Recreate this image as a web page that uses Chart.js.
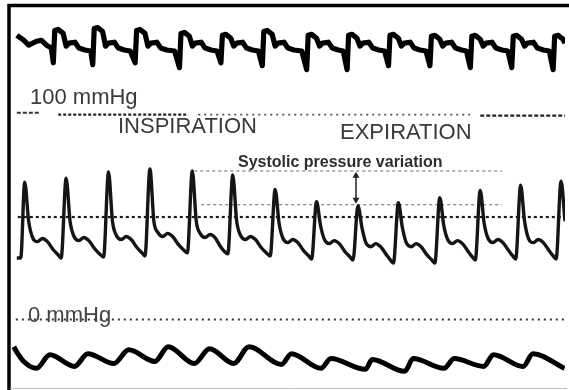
<!DOCTYPE html>
<html>
<head>
<meta charset="utf-8">
<script src="https://cdn.jsdelivr.net/npm/chart.js@4"></script>
<style>
	html, body { margin: 0; padding: 0; background: #fff; overflow: hidden; }
	canvas { display: block; }
</style>
</head>
<body>
<canvas id="trace" width="569" height="390"></canvas>
<script>
// time in seconds (50 px per second)
const artTime = [0.08, 0.16,
	0.24, 0.32, 0.40, 0.50, 0.60, 0.70, 0.82, 0.92, 0.98,
	1.08, 1.16, 1.24, 1.34, 1.44, 1.54, 1.66, 1.76, 1.84,
	1.94, 2.02, 2.10, 2.20, 2.30, 2.40, 2.52, 2.62, 2.68,
	2.78, 2.86, 2.94, 3.04, 3.14, 3.24, 3.36, 3.46, 3.54,
	3.64, 3.72, 3.80, 3.90, 4.00, 4.10, 4.20, 4.28, 4.36,
	4.46, 4.54, 4.62, 4.72, 4.82, 4.92, 5.04, 5.14, 5.22,
	5.32, 5.40, 5.48, 5.58, 5.68, 5.78, 5.90, 6.00, 6.06,
	6.16, 6.24, 6.32, 6.42, 6.52, 6.62, 6.74, 6.84, 6.90,
	7.00, 7.08, 7.16, 7.26, 7.36, 7.46, 7.58, 7.66, 7.72,
	7.82, 7.90, 7.98, 8.08, 8.18, 8.28, 8.40, 8.50, 8.56,
	8.66, 8.74, 8.82, 8.92, 9.02, 9.12, 9.24, 9.32, 9.38,
	9.48, 9.56, 9.64, 9.74, 9.84, 9.94, 10.06, 10.14, 10.20,
	10.30, 10.38, 10.46, 10.56, 10.66, 10.76, 10.88, 10.96, 11.02,
	11.12, 11.20]
// arterial pressure, mmHg
const artPressure = [30, 30,
	67, 48, 40, 38, 39.5, 38, 34, 31.5, 30,
	69, 48, 40.5, 38.5, 40, 38.5, 34.5, 32, 30.5,
	72, 48, 41, 39, 40.5, 39, 35, 32.5, 31,
	73.5, 48, 42.5, 40.5, 42, 40.5, 36.5, 34, 32.5,
	72.5, 48, 42, 40, 41.5, 40, 36, 33.5, 32,
	70.5, 48, 41, 39, 40.5, 39, 35, 32.5, 31,
	63.5, 47, 39.5, 37.5, 39, 37.5, 33.5, 31, 29.5,
	57.5, 46, 39, 37, 38.5, 37, 33, 30.5, 29,
	55.5, 45, 37.5, 35.5, 37, 35.5, 31.5, 29, 27.5,
	57, 45, 37.5, 35.5, 37, 35.5, 31.5, 29, 27.5,
	59.5, 46, 39, 37, 38.5, 37, 33, 30.5, 29,
	63, 47, 39.5, 37.5, 39, 37.5, 33.5, 31, 29.5,
	65.5, 48, 39.5, 37.5, 39, 37.5, 33.5, 31, 29.5,
	67.5, 48]

// ECG, mV
const ecgTime = [0.08, 0.22, 0.32, 0.48, 0.58, 0.68, 0.78,
	0.82, 0.85, 0.92, 1.02, 1.08, 1.14, 1.26, 1.34, 1.46, 1.58,
	1.62, 1.65, 1.72, 1.82, 1.88, 1.94, 2.06, 2.14, 2.26, 2.38,
	2.48, 2.51, 2.58, 2.68, 2.74, 2.80, 2.92, 3.00, 3.12, 3.28,
	3.38, 3.41, 3.48, 3.58, 3.64, 3.70, 3.82, 3.90, 4.02, 4.14,
	4.22, 4.25, 4.32, 4.42, 4.48, 4.54, 4.66, 4.74, 4.86, 4.98,
	5.06, 5.09, 5.16, 5.26, 5.32, 5.38, 5.50, 5.58, 5.70, 5.86,
	5.96, 5.99, 6.06, 6.16, 6.22, 6.28, 6.40, 6.48, 6.60, 6.70,
	6.78, 6.81, 6.88, 6.98, 7.04, 7.10, 7.22, 7.30, 7.42, 7.54,
	7.62, 7.65, 7.72, 7.82, 7.88, 7.94, 8.06, 8.14, 8.26, 8.38,
	8.46, 8.49, 8.56, 8.66, 8.72, 8.78, 8.90, 8.98, 9.10, 9.20,
	9.28, 9.31, 9.38, 9.48, 9.54, 9.60, 9.72, 9.80, 9.92, 10.04,
	10.12, 10.15, 10.22, 10.32, 10.38, 10.44, 10.56, 10.64, 10.76, 10.88,
	10.96, 10.99, 11.06, 11.16, 11.20]
const ecgValue = [0.65, 0.4, 0.15, 0.35, 0.4, 0.15, 0,
	-0.75, 0.9, 0.95, 0.75, 0.1, 0.25, 0.3, 0, -0.1, -0.15,
	-0.85, 1.0, 1.05, 0.85, 0.1, 0.25, 0.3, 0, -0.1, -0.15,
	-0.75, 0.9, 0.95, 0.75, 0.1, 0.25, 0.3, 0, -0.1, -0.15,
	-1.0, 0.75, 0.8, 0.6, 0.1, 0.25, 0.3, 0, -0.1, -0.15,
	-0.75, 0.65, 0.7, 0.5, 0.1, 0.25, 0.3, 0, -0.1, -0.15,
	-0.9, 0.85, 0.9, 0.7, 0.1, 0.25, 0.3, 0, -0.1, -0.15,
	-1.1, 0.65, 0.7, 0.5, 0.1, 0.25, 0.3, 0, -0.1, -0.15,
	-1.1, 0.65, 0.7, 0.5, 0.1, 0.25, 0.3, 0, -0.1, -0.15,
	-0.9, 0.65, 0.7, 0.5, 0.1, 0.25, 0.3, 0, -0.1, -0.15,
	-0.9, 0.6, 0.65, 0.45, 0.1, 0.25, 0.3, 0, -0.1, -0.15,
	-1.0, 0.6, 0.65, 0.45, 0.1, 0.25, 0.3, 0, -0.1, -0.15,
	-1.0, 0.6, 0.65, 0.45, 0.1, 0.25, 0.3, 0, -0.1, -0.15,
	-1.1, 0.6, 0.65, 0.45, 0.25]

// central venous pressure, mmHg
const cvpTime = [0.02, 0.10, 0.22, 0.48, 0.75, 1.25, 1.52, 2.05, 2.35, 2.88,
	3.15, 3.68, 3.99, 4.48, 4.79, 5.45, 5.65, 6.25, 6.45, 7.15,
	7.29, 7.95, 8.12, 8.75, 8.95, 9.55, 9.75, 10.35, 10.55, 11.19]
const cvpValue = [15, 11.5, 7.5, 4, 11, 5, 11.5, 6.5, 13.5, 7.5,
	15, 6.5, 14, 6.5, 15, 6, 11.5, 4, 9, 3.5,
	8.5, 2.5, 9, 4, 9, 5, 11, 5, 11.5, 4]

// reference levels, mmHg
const upperRef = 100
const zeroRef = 0
const meanRef = 50
const spvMax = 72.5
const spvMin = 56
const arrowTime = [6.96, 6.96]
const arrowValue = [70.2, 58.5]

const pts = (xs, ys) => xs.map((x, i) => ({ x: x, y: ys[i] }))
const flat = (level, from, to) => [{ x: from, y: level }, { x: to, y: level }]

const dotted = (data, color, width, dash) => ({
	data: data,
	yAxisID: "yArt",
	borderColor: color,
	borderWidth: width,
	borderDash: dash,
	pointRadius: 0,
	order: 5,
})

const labels = [
	{ text: "100 mmHg", x: 30, y: 104, font: "22px 'Liberation Sans', Arial, sans-serif", color: "#3a3a3a" },
	{ text: "INSPIRATION", x: 118, y: 133, font: "22px 'Liberation Sans', Arial, sans-serif", color: "#3a3a3a" },
	{ text: "EXPIRATION", x: 340, y: 139, font: "22px 'Liberation Sans', Arial, sans-serif", color: "#3a3a3a" },
	{ text: "Systolic pressure variation", x: 238, y: 167, font: "bold 16px 'Liberation Sans', Arial, sans-serif", color: "#2e2e2e" },
	{ text: "0 mmHg", x: 28, y: 322, font: "22px 'Liberation Sans', Arial, sans-serif", color: "#444" },
]

const paperPlugin = {
	id: "paper",
	beforeDraw(chart) {
		const c = chart.ctx
		c.save()
		c.fillStyle = "#fff"
		c.fillRect(0, 0, chart.width, chart.height)
		c.restore()
	},
	afterDraw(chart) {
		const c = chart.ctx
		c.save()
		labels.forEach((l) => {
			c.font = l.font
			c.fillStyle = l.color
			c.textBaseline = "alphabetic"
			c.fillText(l.text, l.x, l.y)
		})
		// frame of the recorder strip: heavy top and left edges
		c.strokeStyle = "#000"
		c.lineWidth = 3.5
		c.beginPath()
		c.moveTo(9, 390)
		c.lineTo(9, 5.5)
		c.lineTo(569, 5.5)
		c.stroke()
		c.strokeStyle = "#c0c0c0"
		c.lineWidth = 1
		c.beginPath()
		c.moveTo(10, 388.5)
		c.lineTo(567, 388.5)
		c.stroke()
		c.restore()
	},
}

new Chart(document.getElementById("trace"), {
	type: "line",
	data: {
		datasets: [
			{
				data: pts(ecgTime, ecgValue),
				yAxisID: "yEcg",
				borderColor: "#000",
				borderWidth: 5.2,
				pointRadius: 0,
				tension: 0,
				borderJoinStyle: "round",
				borderCapStyle: "butt",
			},
			{
				data: pts(artTime, artPressure),
				yAxisID: "yArt",
				borderColor: "#151515",
				borderWidth: 3.4,
				pointRadius: 0,
				cubicInterpolationMode: "monotone",
				borderJoinStyle: "round",
			},
			{
				data: pts(cvpTime, cvpValue),
				yAxisID: "yCvp",
				borderColor: "#000",
				borderWidth: 5,
				pointRadius: 0,
				cubicInterpolationMode: "monotone",
				borderJoinStyle: "round",
				borderCapStyle: "butt",
			},
			// 100 mmHg marker, drawn in pieces as on the strip
			dotted(flat(upperRef + 1, 0.08, 0.56), "#333", 2, [4, 2]),
			dotted(flat(upperRef, 0.92, 3.56), "#222", 2.3, [3, 2]),
			dotted(flat(upperRef, 3.76, 9.28), "#555", 1.8, [2, 4]),
			dotted(flat(upperRef - 0.5, 9.48, 11.2), "#222", 2.3, [4, 2]),
			dotted(flat(zeroRef, 0.06, 11.2), "#333", 2, [2, 4]),
			dotted(flat(meanRef, 0.1, 11.2), "#1a1a1a", 2.2, [3, 3]),
			dotted(flat(spvMax, 3.68, 9.92), "#666", 1, [3, 3]),
			dotted(flat(spvMin, 3.82, 9.92), "#666", 1, [3, 3]),
			{
				data: pts(arrowTime, arrowValue),
				yAxisID: "yArt",
				borderColor: "#222",
				borderWidth: 1.5,
				pointStyle: "triangle",
				pointRadius: 4,
				pointRotation: (ctx) => (ctx.dataIndex === 0 ? 0 : 180),
				pointBackgroundColor: "#222",
				pointBorderColor: "#222",
				pointBorderWidth: 0,
			},
		],
	},
	options: {
		responsive: false,
		animation: false,
		events: [],
		layout: { padding: 0 },
		plugins: { legend: { display: false }, tooltip: { enabled: false } },
		scales: {
			x: { type: "linear", min: -0.18, max: 11.2, display: false },
			yArt: { type: "linear", min: -32.54, max: 154.07, display: false },
			yEcg: { type: "linear", min: -17.25, max: 2.25, display: false },
			yCvp: { type: "linear", min: -5, max: 190, display: false },
		},
	},
	plugins: [paperPlugin],
})
</script>
</body>
</html>
